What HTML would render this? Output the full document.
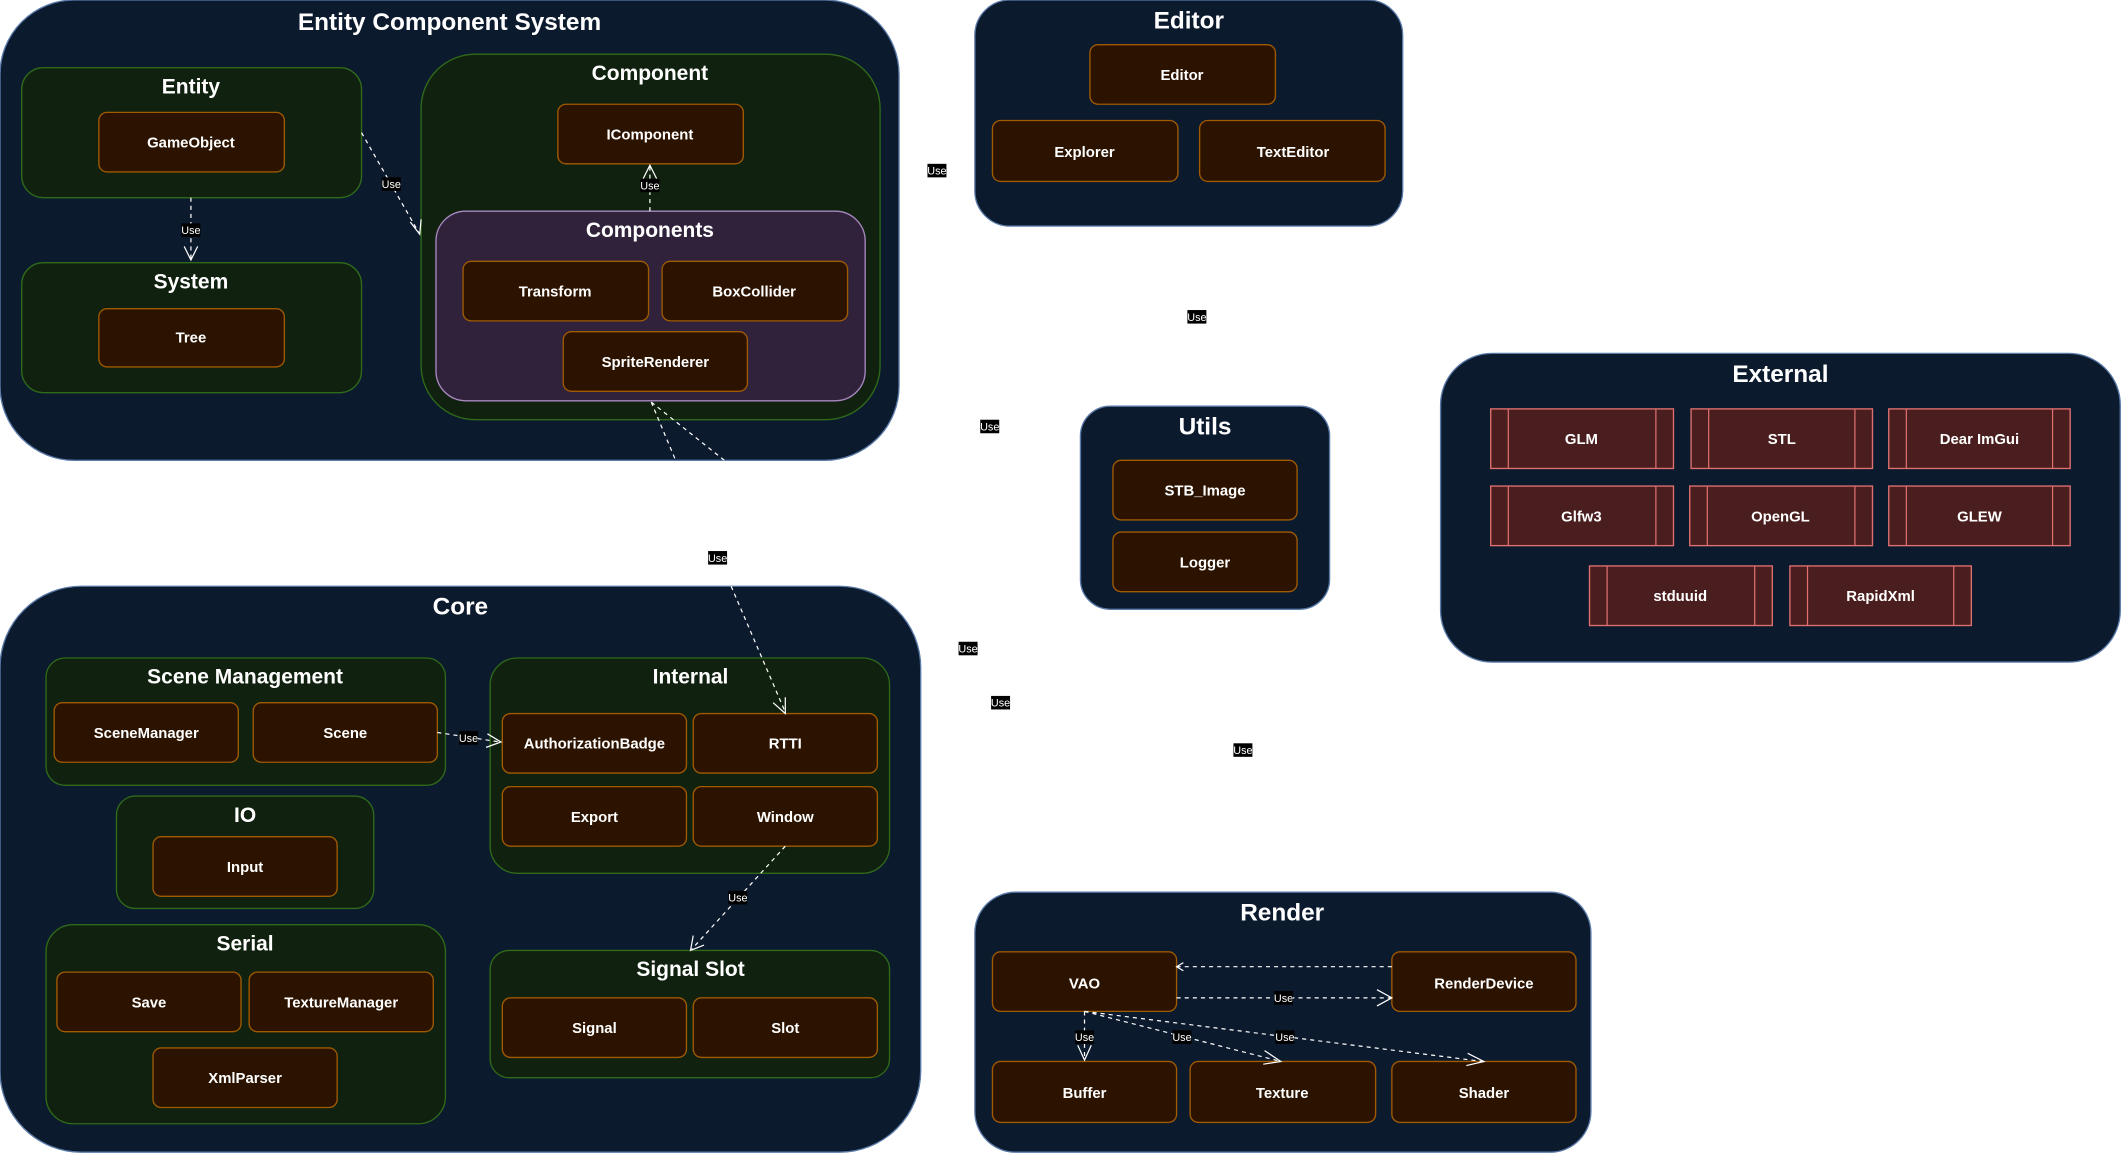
<!DOCTYPE html>
<html><head><meta charset="utf-8"><style>
html,body{margin:0;padding:0;background:#fff;width:2123px;height:1153px;overflow:hidden}
svg{display:block}
text{font-family:"Liberation Sans",sans-serif;fill:#fff;text-anchor:middle;font-weight:bold}
.c{fill:#0c1a2e;stroke:#5a7aa8;stroke-width:1}
.g{fill:#10220f;stroke:#2f6a1a;stroke-width:1}
.p{fill:#30223a;stroke:#a888c0;stroke-width:1}
.n{fill:#2c1300;stroke:#a05a00;stroke-width:1}
.x{fill:#4a1e1e;stroke:#e07070;stroke-width:1}
.t1{font-size:18px}.t2{font-size:15.5px}.t3{font-size:11px}
.e{stroke:#fff;stroke-width:0.9;stroke-dasharray:3,3;fill:none}
.a{stroke:#fff;stroke-width:0.9;fill:none}
.lb{fill:#000}.lt{font-size:8px;font-weight:normal}
</style></head><body>
<svg width="2123" height="1153" viewBox="0 0 1568 851.6">
<!-- ECS -->
<rect class="c" x="0" y="0" width="664" height="340" rx="55"/>
<text class="t1" x="332" y="22">Entity Component System</text>
<rect class="g" x="16" y="50" width="251" height="96" rx="16"/>
<text class="t2" x="141" y="69">Entity</text>
<rect class="n" x="73" y="83" width="137" height="44" rx="6"/><text class="t3" x="141" y="109">GameObject</text>
<rect class="g" x="16" y="194" width="251" height="96" rx="16"/>
<text class="t2" x="141" y="213">System</text>
<rect class="n" x="73" y="228" width="137" height="43" rx="6"/><text class="t3" x="141" y="253">Tree</text>
<rect class="g" x="311" y="40" width="339" height="270" rx="40"/>
<text class="t2" x="480" y="59">Component</text>
<rect class="n" x="412" y="77" width="137" height="44" rx="6"/><text class="t3" x="480" y="103">IComponent</text>
<rect class="p" x="322" y="156" width="317" height="140" rx="22"/>
<text class="t2" x="480" y="175">Components</text>
<rect class="n" x="342" y="193" width="137" height="44" rx="6"/><text class="t3" x="410" y="219">Transform</text>
<rect class="n" x="489" y="193" width="137" height="44" rx="6"/><text class="t3" x="557" y="219">BoxCollider</text>
<rect class="n" x="416" y="245" width="136" height="44" rx="6"/><text class="t3" x="484" y="271">SpriteRenderer</text>
<!-- Editor -->
<rect class="c" x="720" y="0" width="316" height="167" rx="26"/>
<text class="t1" x="878" y="21">Editor</text>
<rect class="n" x="805" y="33" width="137" height="44" rx="6"/><text class="t3" x="873" y="59">Editor</text>
<rect class="n" x="733" y="89" width="137" height="45" rx="6"/><text class="t3" x="801" y="116">Explorer</text>
<rect class="n" x="886" y="89" width="137" height="45" rx="6"/><text class="t3" x="955" y="116">TextEditor</text>
<!-- Utils -->
<rect class="c" x="798" y="300" width="184" height="150" rx="22"/>
<text class="t1" x="890" y="321">Utils</text>
<rect class="n" x="822" y="340" width="136" height="44" rx="6"/><text class="t3" x="890" y="366">STB_Image</text>
<rect class="n" x="822" y="393" width="136" height="44" rx="6"/><text class="t3" x="890" y="419">Logger</text>
<!-- External -->
<rect class="c" x="1064" y="261" width="502" height="228" rx="38"/>
<text class="t1" x="1315" y="282">External</text>
<g>
<rect class="x" x="1101" y="302" width="135" height="44"/><path class="a" style="stroke:#e07070" d="M1114 302V346M1223 302V346"/><text class="t3" x="1168" y="328">GLM</text>
<rect class="x" x="1249" y="302" width="134" height="44"/><path class="a" style="stroke:#e07070" d="M1262 302V346M1370 302V346"/><text class="t3" x="1316" y="328">STL</text>
<rect class="x" x="1395" y="302" width="134" height="44"/><path class="a" style="stroke:#e07070" d="M1408 302V346M1516 302V346"/><text class="t3" x="1462" y="328">Dear ImGui</text>
<rect class="x" x="1101" y="359" width="135" height="44"/><path class="a" style="stroke:#e07070" d="M1114 359V403M1223 359V403"/><text class="t3" x="1168" y="385">Glfw3</text>
<rect class="x" x="1248" y="359" width="135" height="44"/><path class="a" style="stroke:#e07070" d="M1261 359V403M1370 359V403"/><text class="t3" x="1315" y="385">OpenGL</text>
<rect class="x" x="1395" y="359" width="134" height="44"/><path class="a" style="stroke:#e07070" d="M1408 359V403M1516 359V403"/><text class="t3" x="1462" y="385">GLEW</text>
<rect class="x" x="1174" y="418" width="135" height="44"/><path class="a" style="stroke:#e07070" d="M1187 418V462M1296 418V462"/><text class="t3" x="1241" y="444">stduuid</text>
<rect class="x" x="1322" y="418" width="134" height="44"/><path class="a" style="stroke:#e07070" d="M1335 418V462M1443 418V462"/><text class="t3" x="1389" y="444">RapidXml</text>
</g>
<!-- Core -->
<rect class="c" x="0" y="433" width="680" height="418" rx="60"/>
<text class="t1" x="340" y="454">Core</text>
<rect class="g" x="34" y="486" width="295" height="94" rx="14"/>
<text class="t2" x="181" y="505">Scene Management</text>
<rect class="n" x="40" y="519" width="136" height="44" rx="6"/><text class="t3" x="108" y="545">SceneManager</text>
<rect class="n" x="187" y="519" width="136" height="44" rx="6"/><text class="t3" x="255" y="545">Scene</text>
<rect class="g" x="86" y="588" width="190" height="83" rx="14"/>
<text class="t2" x="181" y="607">IO</text>
<rect class="n" x="113" y="618" width="136" height="44" rx="6"/><text class="t3" x="181" y="644">Input</text>
<rect class="g" x="34" y="683" width="295" height="147" rx="20"/>
<text class="t2" x="181" y="702">Serial</text>
<rect class="n" x="42" y="718" width="136" height="44" rx="6"/><text class="t3" x="110" y="744">Save</text>
<rect class="n" x="184" y="718" width="136" height="44" rx="6"/><text class="t3" x="252" y="744">TextureManager</text>
<rect class="n" x="113" y="774" width="136" height="44" rx="6"/><text class="t3" x="181" y="800">XmlParser</text>
<rect class="g" x="362" y="486" width="295" height="159" rx="20"/>
<text class="t2" x="510" y="505">Internal</text>
<rect class="n" x="371" y="527" width="136" height="44" rx="6"/><text class="t3" x="439" y="553">AuthorizationBadge</text>
<rect class="n" x="512" y="527" width="136" height="44" rx="6"/><text class="t3" x="580" y="553">RTTI</text>
<rect class="n" x="371" y="581" width="136" height="44" rx="6"/><text class="t3" x="439" y="607">Export</text>
<rect class="n" x="512" y="581" width="136" height="44" rx="6"/><text class="t3" x="580" y="607">Window</text>
<rect class="g" x="362" y="702" width="295" height="94" rx="14"/>
<text class="t2" x="510" y="721">Signal Slot</text>
<rect class="n" x="371" y="737" width="136" height="44" rx="6"/><text class="t3" x="439" y="763">Signal</text>
<rect class="n" x="512" y="737" width="136" height="44" rx="6"/><text class="t3" x="580" y="763">Slot</text>
<!-- Render -->
<rect class="c" x="720" y="659" width="455" height="192" rx="30"/>
<text class="t1" x="947" y="680">Render</text>
<rect class="n" x="733" y="703" width="136" height="44" rx="6"/><text class="t3" x="801" y="730">VAO</text>
<rect class="n" x="1028" y="703" width="136" height="44" rx="6"/><text class="t3" x="1096" y="730">RenderDevice</text>
<rect class="n" x="733" y="784" width="136" height="45" rx="6"/><text class="t3" x="801" y="811">Buffer</text>
<rect class="n" x="879" y="784" width="137" height="45" rx="6"/><text class="t3" x="947" y="811">Texture</text>
<rect class="n" x="1028" y="784" width="136" height="45" rx="6"/><text class="t3" x="1096" y="811">Shader</text>
<!-- edges -->
<path class="e" d="M267 98L310 173"/><path class="a" d="M303 164L310 173L311 162"/>
<path class="e" d="M141 146V192"/><path class="a" d="M136 182L141 192L146 182"/>
<path class="e" d="M480 156V122"/><path class="a" d="M475 132L480 122L485 132"/>
<path class="e" d="M481 297L499 340M481 297L535 340"/>
<path class="e" d="M540 433L580 526"/><path class="a" d="M571 519L580 527L580 515"/>
<path class="e" d="M323 541L369 548"/><path class="a" d="M360 542L370 548L359 552"/>
<path class="e" d="M580 625L511 701"/><path class="a" d="M512 691L510 702L520 698"/>
<path class="e" d="M1028 714H870"/><path class="a" d="M874 711L869 714L874 717"/>
<path class="e" d="M869 737H1027"/><path class="a" d="M1017 731L1028 737L1017 743"/>
<path class="e" d="M801 747V783"/><path class="a" d="M796 772L801 783L806 772"/>
<path class="e" d="M801 747L946 784"/><path class="a" d="M934 776L946 784L933 786"/>
<path class="e" d="M801 747L1095 784"/><path class="a" d="M1084 778L1096 784L1083 787"/>
<!-- labels -->
<g class="lt">
<rect class="lb" x="282" y="131" width="14" height="10"/><text class="lt" x="289" y="139">Use</text>
<rect class="lb" x="134" y="165" width="14" height="10"/><text class="lt" x="141" y="173">Use</text>
<rect class="lb" x="473" y="132" width="14" height="10"/><text class="lt" x="480" y="140">Use</text>
<rect class="lb" x="339" y="540" width="14" height="10"/><text class="lt" x="346" y="548">Use</text>
<rect class="lb" x="538" y="658" width="14" height="10"/><text class="lt" x="545" y="666">Use</text>
<rect class="lb" x="941" y="732" width="14" height="10"/><text class="lt" x="948" y="740">Use</text>
<rect class="lb" x="794" y="761" width="14" height="10"/><text class="lt" x="801" y="769">Use</text>
<rect class="lb" x="866" y="761" width="14" height="10"/><text class="lt" x="873" y="769">Use</text>
<rect class="lb" x="942" y="761" width="14" height="10"/><text class="lt" x="949" y="769">Use</text>
<rect class="lb" x="685" y="121" width="14" height="10"/><text class="lt" x="692" y="129">Use</text>
<rect class="lb" x="877" y="229" width="14" height="10"/><text class="lt" x="884" y="237">Use</text>
<rect class="lb" x="724" y="310" width="14" height="10"/><text class="lt" x="731" y="318">Use</text>
<rect class="lb" x="523" y="407" width="14" height="10"/><text class="lt" x="530" y="415">Use</text>
<rect class="lb" x="708" y="474" width="14" height="10"/><text class="lt" x="715" y="482">Use</text>
<rect class="lb" x="732" y="514" width="14" height="10"/><text class="lt" x="739" y="522">Use</text>
<rect class="lb" x="911" y="549" width="14" height="10"/><text class="lt" x="918" y="557">Use</text>
</g>
</svg>
</body></html>
